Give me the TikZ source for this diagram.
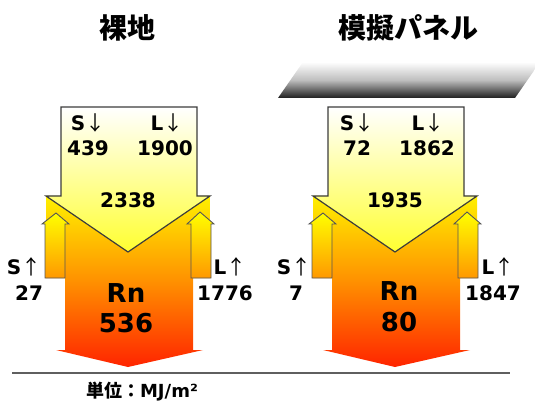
\documentclass[tikz,border=0pt]{standalone}
\usepackage{fontspec}
\setmainfont{DejaVu Sans}
\newfontfamily\jp{Noto Sans CJK JP}
\definecolor{rnTop}{HTML}{FFF000}
\definecolor{rnMid}{HTML}{FF9000}
\definecolor{rnBot}{HTML}{FF2400}
\definecolor{upTop}{HTML}{FFFF00}
\definecolor{upBot}{HTML}{FF9800}
\definecolor{dnBot}{HTML}{FFFF30}
\definecolor{edgeD}{HTML}{3C3C3C}
\definecolor{edgeU}{HTML}{555555}
\definecolor{baseC}{HTML}{5F5F5F}
\definecolor{panMid}{HTML}{BEBEBE}
\definecolor{panBot}{HTML}{1E1E1E}
\newcommand\myDn{{\jp\mdseries ↓}}
\newcommand\myUp{{\jp\mdseries ↑}}
\begin{document}
\begin{tikzpicture}[x=1pt,y=-1pt,
  lbl/.style={font=\fontsize{20}{24}\selectfont\bfseries, inner sep=0pt},
  bigl/.style={font=\fontsize{26}{30}\selectfont\bfseries, inner sep=0pt},
  ttl/.style={font=\jp\bfseries\fontsize{28}{32}\selectfont, inner sep=0pt},
  rnarrow/.style={top color=rnTop, bottom color=rnBot, middle color=rnMid},
  uparrow/.style={draw=edgeU, line width=0.9pt, top color=upTop, bottom color=upBot, line join=miter},
  dnarrow/.style={draw=edgeD, line width=1.2pt, top color=white, bottom color=dnBot, line join=miter},
  panel/.style={top color=white, bottom color=panBot, middle color=panMid}]
\useasboundingbox (0,0) rectangle (535,403);
\clip (0,0) rectangle (535,403);
% panel
\path[panel] (278,98) -- (515,98) -- (540,62) -- (303,62) -- cycle;
% two flux diagrams
\foreach \o in {0,267}{
\begin{scope}[xshift=\o pt]
  \path[rnarrow] (46,196) -- (210,196) -- (210,278) -- (193,278) -- (193,350) -- (203,350)
     -- (128,367) -- (56,350) -- (65,350) -- (65,278) -- (46,278) -- cycle;
  \path[uparrow] (45,278) -- (45,224) -- (42,224) -- (56,213) -- (69,224) -- (65,224) -- (65,278) -- cycle;
  \path[uparrow] (191,278) -- (191,224) -- (187,224) -- (200,212) -- (214,224) -- (211,224) -- (211,278) -- cycle;
  \path[dnarrow] (61,107) -- (197,107) -- (197,196) -- (210,196) -- (128,252) -- (46,196) -- (61,196) -- cycle;
\end{scope}}
% baseline
\coordinate (bl) at (12,373);
\coordinate (br) at (510,373);
\draw[baseC, line width=1.5pt] (bl) -- (br);
% titles
\node[ttl] (t1) at (127,28) {裸地};
\node[ttl] (t2) at (408,28) {模擬パネル};
% left texts
\node[lbl] (sd1) at (88,123) {S\myDn};
\node[lbl] (sv1) at (88,148) {439};
\node[lbl] (ld1) at (167,123) {L\myDn};
\node[lbl] (lv1) at (165,148) {1900};
\node[lbl] (in1) at (128,200) {2338};
\node[lbl] (su1) at (24,267) {S\myUp};
\node[lbl] (suv1) at (29,293) {27};
\node[lbl] (lu1) at (230,267) {L\myUp};
\node[lbl] (luv1) at (225,293) {1776};
\node[bigl] (rn1) at (126,293) {Rn};
\node[bigl] (rnv1) at (126,323) {536};
% right texts
\node[lbl] (sd2) at (357,123) {S\myDn};
\node[lbl] (sv2) at (357,148) {72};
\node[lbl] (ld2) at (428,123) {L\myDn};
\node[lbl] (lv2) at (427,148) {1862};
\node[lbl] (in2) at (395,200) {1935};
\node[lbl] (su2) at (294,267) {S\myUp};
\node[lbl] (suv2) at (296,293) {7};
\node[lbl] (lu2) at (498,267) {L\myUp};
\node[lbl] (luv2) at (493,293) {1847};
\node[bigl] (rn2) at (399,291) {Rn};
\node[bigl] (rnv2) at (399,322) {80};
% unit
\node[inner sep=0pt, font=\fontsize{18}{21}\selectfont\bfseries] (unit) at (142,392) {{\jp 単位：}MJ/m²};
\end{tikzpicture}
\end{document}
